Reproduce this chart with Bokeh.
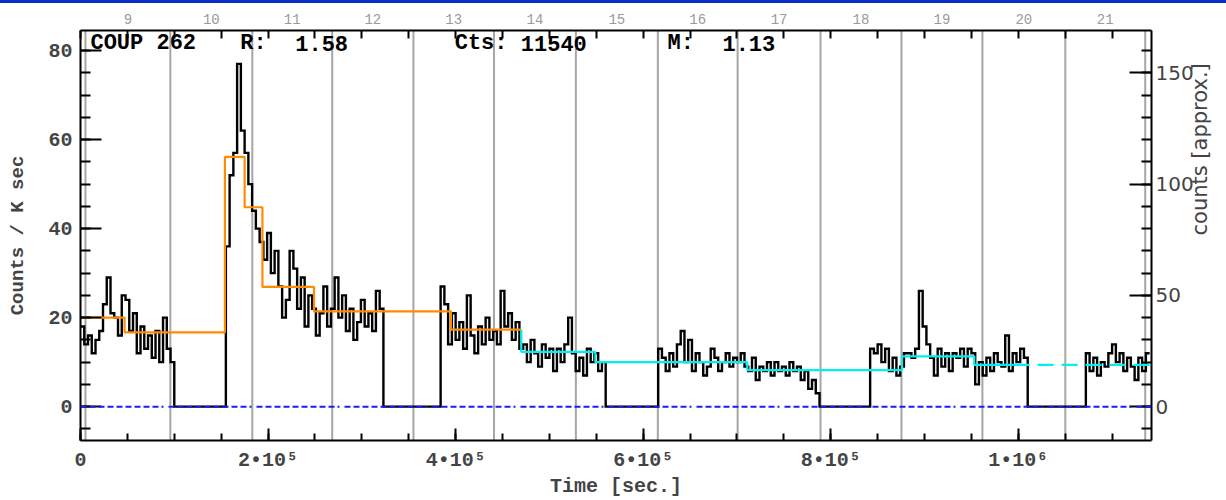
import math
import numpy as np
from bokeh.plotting import figure
from bokeh.models import (Range1d, LinearAxis, SingleIntervalTicker, FixedTicker,
                          Span, Div, ColumnDataSource)
from bokeh.core.properties import value
from bokeh.layouts import column
from bokeh.embed import file_html
from bokeh.resources import INLINE

# ---------------- data ----------------
# Light curve: count rate (counts / ksec) in 4 ks bins, one list per continuous stretch
BIN = 4000.0
seg_start = [0.0, 155e3, 384e3, 616e3, 842e3, 1072e3]
rate_a = [18, 14, 16, 12, 15, 17, 23, 29, 21, 20, 16, 25, 24, 17, 21, 12, 18, 13, 16, 11,
          17, 10, 20, 13, 10]
rate_b = [36, 52, 57, 77, 62, 57, 50, 44, 40, 37, 33, 39, 30, 35, 27, 20, 24, 35, 31, 22,
          29, 18, 25, 22, 16, 21, 27, 18, 22, 29, 20, 25, 17, 22, 15, 19, 24, 18, 21, 17,
          26, 22]
rate_c = [27, 23, 14, 21, 15, 19, 13, 25, 16, 12, 18, 14, 20, 15, 17, 14, 26, 18, 21, 15,
          19, 13, 14, 10, 15, 12, 9, 14, 11, 13, 8, 13, 10, 14, 20, 12, 8, 11, 7, 13,
          10, 12, 8, 10]
rate_d = [13, 11, 8, 12, 9, 14, 17, 10, 15, 8, 12, 10, 7, 9, 13, 11, 8, 10, 12, 9,
          11, 10, 12, 9, 8, 11, 6, 9, 8, 10, 7, 10, 8, 9, 7, 10, 8, 9, 6, 8,
          4, 6, 3]
rate_e = [13, 12, 14, 10, 13, 8, 11, 7, 9, 12, 12, 11, 13, 26, 18, 14, 11, 7, 13, 9,
          12, 8, 12, 11, 13, 9, 13, 12, 5, 10, 7, 11, 8, 12, 10, 9, 16, 8, 12, 10,
          13, 11]
rate_f = [12, 8, 11, 7, 10, 9, 12, 14, 10, 12, 8, 11, 9, 6, 11, 8, 12]
rates = [rate_a, rate_b, rate_c, rate_d, rate_e, rate_f]

# Bayesian-block levels
orange_edges = [0.0, 47e3, 154e3, 175e3, 194e3, 249e3, 395e3, 470e3]
orange_levels = [20.0, 16.7, 56.1, 44.8, 26.9, 21.4, 17.3]
cyan_edges = [470e3, 549e3, 711e3, 876e3, 953e3, 995e3]
cyan_levels = [12.3, 10.0, 8.2, 11.3, 9.4]
cyan_tail_edges = [995e3, 1142e3]
cyan_tail_level = 9.4

# Segment boundaries and their numbers
seg_bounds = [5.3e3, 95.8e3, 183.2e3, 268.4e3, 355.0e3, 440.9e3, 528.2e3, 615.6e3,
              700.7e3, 789.1e3, 875.4e3, 961.7e3, 1050.1e3, 1135.3e3]
seg_numbers = ["9", "10", "11", "12", "13", "14", "15", "16", "17", "18", "19", "20", "21"]

# Bottom tick labels
x_tick_values = [0, 200000, 400000, 600000, 800000, 1000000]
x_tick_labels = ["0", "2•10⁵", "4•10⁵", "6•10⁵", "8•10⁵", "1•10⁶"]

# Header texts
header_texts = ["COUP 262", "R:", "1.58", "Cts:", "11540", "M:", "1.13"]
header_x = [10.6e3, 170.3e3, 229.0e3, 399.0e3, 469.5e3, 626.0e3, 684.5e3]
HEADER_Y = 81.5

MONO = "Liberation Mono"
SANS = "DejaVu Sans"
X_MAX = 1.142e6


def step_xy(edges, levels):
    xs, ys = [], []
    for i, v in enumerate(levels):
        xs += [edges[i], edges[i + 1]]
        ys += [v, v]
    return xs, ys


# assemble the light curve as one continuous step line (gaps at zero)
lc_x, lc_y = [], []
for k, (t0, vals) in enumerate(zip(seg_start, rates)):
    edges = t0 + BIN * np.arange(len(vals) + 1)
    if k > 0:
        lc_x.append(t0)
        lc_y.append(0)
    sx, sy = step_xy(list(edges), vals)
    lc_x += sx
    lc_y += sy
    if k < len(rates) - 1:
        lc_x.append(edges[-1])
        lc_y.append(0)

p = figure(width=1226, height=497, x_range=Range1d(0, X_MAX), y_range=Range1d(-7.6, 84.5),
           output_backend="svg", toolbar_location=None, margin=0,
           min_border_left=80, min_border_right=73, min_border_top=27, min_border_bottom=58)
p.extra_y_ranges = {"counts": Range1d(-15.2, 169.0)}
p.xgrid.visible = False
p.ygrid.visible = False
p.outline_line_color = None
p.background_fill_color = "white"
p.border_fill_color = "white"

# segment boundaries
for b in seg_bounds:
    p.add_layout(Span(location=b, dimension="height", line_color="#a6a6a6",
                      line_width=2, level="underlay"))

# light curve
p.line(lc_x, lc_y, line_color="black", line_width=2.4, line_join="miter")

# zero level
p.add_layout(Span(location=0, dimension="width", line_color="#1a1aff", line_width=2,
                  line_dash="6 3 6 3 6 3 6 3 6 3 6 3 6 3 6 3 6 3 2 5"))

# block levels
ox, oy = step_xy(orange_edges, orange_levels)
p.line(ox, oy, line_color="#ff8c00", line_width=2.2)
cx, cy = step_xy(cyan_edges, cyan_levels)
cx = [orange_edges[-1]] + cx
cy = [orange_levels[-1]] + cy
p.line(cx, cy, line_color="#00f0f0", line_width=2.2)
p.line(cyan_tail_edges, [cyan_tail_level, cyan_tail_level], line_color="#00f0f0",
       line_width=2.2, line_dash="16 8")

# header line (source id and summary numbers)
hdr = ColumnDataSource(dict(x=header_x, y=[HEADER_Y] * len(header_x), text=header_texts))
p.text(x="x", y="y", text="text", source=hdr, text_font=value(MONO),
       text_font_style="bold", text_font_size="22px", text_baseline="alphabetic",
       text_align="left", text_color="black")

# bottom axis
xa = p.xaxis[0]
xa.ticker = SingleIntervalTicker(interval=200000, num_minor_ticks=4)
xa.major_label_overrides = dict(zip(x_tick_values, x_tick_labels))
xa.axis_label = "Time [sec.]"
xa.major_tick_in = 12
xa.major_tick_out = 0
xa.minor_tick_in = 7
xa.minor_tick_out = 0
xa.major_label_standoff = 8
xa.major_label_text_font = MONO
xa.major_label_text_font_style = "bold"
xa.major_label_text_font_size = "20px"
xa.axis_label_text_font = MONO
xa.axis_label_text_font_style = "bold"
xa.axis_label_text_font_size = "20px"
xa.axis_label_standoff = 0
xa.axis_line_width = 2
xa.major_tick_line_width = 2
xa.minor_tick_line_width = 2

# left axis
ya = p.yaxis[0]
ya.ticker = SingleIntervalTicker(interval=20, num_minor_ticks=4)
ya.axis_label = "Counts / K sec"
ya.major_tick_in = 21
ya.major_tick_out = 0
ya.minor_tick_in = 10
ya.minor_tick_out = 0
ya.major_label_standoff = 8
ya.major_label_text_font = MONO
ya.major_label_text_font_style = "bold"
ya.major_label_text_font_size = "20px"
ya.axis_label_text_font = MONO
ya.axis_label_text_font_style = "bold"
ya.axis_label_text_font_size = "19px"
ya.axis_label_standoff = 16
ya.axis_line_width = 2
ya.major_tick_line_width = 2
ya.minor_tick_line_width = 2

# right axis (approximate counts per bin); title reads bottom to top
ra = LinearAxis(y_range_name="counts", ticker=SingleIntervalTicker(interval=50, num_minor_ticks=5),
                axis_label="counts [approx.]")
ra.axis_label_orientation = math.pi / 2
ra.major_tick_in = 22
ra.major_tick_out = 0
ra.minor_tick_in = 10
ra.minor_tick_out = 0
ra.major_label_standoff = 4
ra.major_label_text_font = SANS
ra.major_label_text_font_size = "20px"
ra.axis_label_text_font = SANS
ra.axis_label_text_font_style = "normal"
ra.axis_label_text_font_size = "21px"
ra.axis_label_standoff = 3
ra.axis_line_width = 2
ra.major_tick_line_width = 2
ra.minor_tick_line_width = 2
p.add_layout(ra, "right")

# top axis: segment numbers between boundaries, inward ticks every 50 ks
mids = [int(round((seg_bounds[i] + seg_bounds[i + 1]) / 2)) for i in range(len(seg_numbers))]
ta = LinearAxis(ticker=FixedTicker(ticks=mids, minor_ticks=list(range(0, 1150001, 50000))),
                major_label_overrides=dict(zip(mids, seg_numbers)))
ta.major_tick_line_color = None
ta.major_tick_in = 0
ta.major_tick_out = 0
ta.minor_tick_in = 8
ta.minor_tick_out = 0
ta.minor_tick_line_width = 2
ta.axis_line_width = 2
ta.axis_label_standoff = 0
ta.major_label_standoff = 7
ta.major_label_text_font = MONO
ta.major_label_text_font_size = "14px"
ta.major_label_text_color = "#9a9a9a"
p.add_layout(ta, "above")

bar = Div(text="", width=1226, height=3, margin=0,
          styles={"background-color": "#0b2fc4"})
layout = column(bar, p, spacing=0, margin=0)

open("out.html", "w").write(file_html(layout, INLINE))
